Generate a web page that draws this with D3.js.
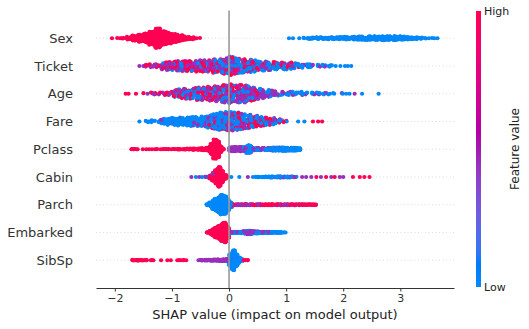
<!DOCTYPE html>
<html>
<head>
<meta charset="utf-8">
<script src="https://cdn.jsdelivr.net/npm/d3@7"></script>
<style>
  body { margin: 0; background: #fff; }
  svg { display: block; font-family: "DejaVu Sans", sans-serif; }
</style>
</head>
<body>
<svg id="chart" width="529" height="329"></svg>
<script>
// Features, top to bottom, in order of mean |SHAP|.
const features = ["Sex", "Ticket", "Age", "Fare", "Pclass", "Cabin", "Parch", "Embarked", "SibSp"];

// Histogram bin width (SHAP units) used for each feature's counts.
const binWidths = [0.1, 0.1, 0.1, 0.1, 0.05, 0.05, 0.05, 0.05, 0.05];

// Each entry: [SHAP value, count with low, mid, high feature value].
const sexBins = [
  [-2.05,0,0,1],[-1.95,0,0,2],[-1.85,0,0,3],[-1.75,0,0,12],[-1.65,0,0,22],[-1.55,0,0,31],
  [-1.45,0,0,40],[-1.35,0,0,58],[-1.25,0,0,84],[-1.15,0,0,60],[-1.05,0,0,46],[-0.95,0,0,36],
  [-0.85,0,0,24],[-0.75,0,0,14],[-0.65,0,0,9],[-0.55,0,0,3],
  [1.05,1,0,0],[1.12,1,0,0],[1.23,1,0,0],[1.35,4,0,0],[1.45,7,0,0],[1.55,8,0,0],[1.65,8,0,0],
  [1.75,9,0,0],[1.85,9,0,0],[1.95,10,0,0],[2.05,12,0,0],[2.15,12,0,0],[2.25,14,0,0],[2.35,15,0,0],
  [2.45,16,0,0],[2.55,16,0,0],[2.65,16,0,0],[2.75,17,0,0],[2.85,18,0,0],[2.95,16,0,0],[3.05,14,0,0],
  [3.15,11,0,0],[3.25,9,0,0],[3.35,6,0,0],[3.45,3,0,0],[3.55,2,0,0],[3.65,1,0,0]
];
const ticketBins = [
  [-1.57,0,1,0],[-1.50,0,1,0],[-1.45,0,2,2],[-1.35,0,3,3],[-1.25,1,3,2],[-1.15,2,6,5],
  [-1.05,2,7,6],[-0.95,3,7,7],[-0.85,3,8,8],[-0.75,3,8,8],[-0.65,3,8,8],[-0.55,3,9,9],
  [-0.45,3,9,9],[-0.35,4,9,8],[-0.25,7,9,9],[-0.15,8,9,8],[-0.05,9,10,10],[0.05,11,12,11],
  [0.15,10,9,10],[0.25,10,7,8],[0.35,13,5,5],[0.45,13,4,4],[0.55,11,3,3],[0.65,11,3,3],
  [0.75,9,3,3],[0.85,8,2,3],[0.95,8,2,3],[1.05,8,2,3],[1.15,7,2,1],[1.25,6,1,1],[1.35,5,1,0],
  [1.45,5,1,0],[1.55,3,1,0],[1.65,3,1,0],[1.75,3,0,0],[1.85,2,0,0],[1.95,1,0,0],[2.03,1,0,0],
  [2.08,1,0,0],[2.14,1,0,0]
];
const ageBins = [
  [-1.81,0,0,1],[-1.76,0,0,1],[-1.63,0,0,1],[-1.45,0,1,1],[-1.35,0,2,2],[-1.25,0,2,2],
  [-1.15,1,2,2],[-1.05,1,2,3],[-0.95,4,3,5],[-0.85,5,4,6],[-0.75,5,5,7],[-0.65,5,5,7],
  [-0.55,6,7,8],[-0.45,6,8,7],[-0.35,7,9,7],[-0.25,7,10,8],[-0.15,8,11,8],[-0.05,8,12,9],
  [0.05,9,13,9],[0.15,7,15,7],[0.25,7,15,7],[0.35,6,14,5],[0.45,5,12,4],[0.55,6,9,2],
  [0.65,5,7,1],[0.75,4,5,1],[0.85,3,5,0],[0.95,3,3,0],[1.05,3,3,0],[1.15,4,2,0],[1.25,4,2,0],
  [1.35,3,1,0],[1.45,3,1,0],[1.55,3,1,0],[1.65,2,1,0],[1.75,2,1,0],[1.85,2,0,0],[1.95,1,1,0],
  [2.05,1,0,0],[2.11,1,0,0],[2.2,0,1,0],[2.33,1,0,0],[2.62,1,0,0]
];
const fareBins = [
  [-1.57,1,0,0],[-1.45,3,0,0],[-1.35,4,0,0],[-1.25,4,0,0],[-1.15,9,1,0],[-1.05,12,1,0],
  [-0.95,12,1,0],[-0.85,14,1,0],[-0.75,14,1,0],[-0.65,15,2,0],[-0.55,15,2,0],[-0.45,17,2,0],
  [-0.35,19,3,1],[-0.25,20,6,3],[-0.15,21,6,5],[-0.05,21,7,6],[0.05,20,8,6],[0.15,17,9,6],
  [0.25,14,9,6],[0.35,11,8,6],[0.45,8,7,6],[0.55,6,6,5],[0.65,5,5,5],[0.75,4,4,5],
  [0.85,3,2,3],[0.95,1,2,1],[1.05,1,0,1],[1.21,1,0,0],[1.32,1,0,0],[1.47,0,0,1],[1.56,0,0,1],
  [1.63,0,0,1]
];
const pclassBins = [
  [-1.71,0,0,1],[-1.69,0,0,2],[-1.66,0,0,2],[-1.63,0,0,2],[-1.6,0,0,1],[-1.51,0,0,1],
  [-1.45,0,0,1],[-1.4,0,0,1],[-1.35,0,0,1],[-1.3,0,0,1],[-1.25,0,0,2],[-1.2,0,0,1],
  [-1.15,0,0,2],[-1.1,0,0,2],[-1.05,0,0,2],[-1.0,0,0,2],[-0.95,0,0,2],[-0.9,0,0,3],
  [-0.85,0,0,3],[-0.8,0,0,3],[-0.75,0,0,4],[-0.7,0,0,4],[-0.65,0,0,4],[-0.6,0,0,5],
  [-0.55,0,0,5],[-0.5,0,0,6],[-0.45,0,0,7],[-0.4,0,0,10],[-0.35,0,0,18],[-0.3,0,0,40],
  [-0.25,0,0,74],[-0.2,0,0,62],[-0.15,0,0,24],[-0.11,0,0,3],
  [0.025,0,14,0],[0.075,0,16,0],[0.125,0,16,0],[0.175,0,16,0],[0.225,1,15,0],[0.275,4,12,0],
  [0.325,24,6,0],[0.375,22,5,0],[0.425,6,4,0],[0.475,3,5,0],[0.525,3,5,0],[0.575,3,5,0],
  [0.625,4,4,0],[0.675,4,4,0],[0.725,5,3,0],[0.775,9,3,0],[0.825,10,2,0],[0.875,10,2,0],
  [0.925,11,2,0],[0.975,11,2,0],[1.025,10,1,0],[1.075,10,1,0],[1.125,10,1,0],[1.175,10,1,0],
  [1.225,8,0,0]
];
const cabinBins = [
  [-0.66,0,1,0],[-0.58,1,0,0],[-0.52,0,1,0],[-0.47,1,0,0],[-0.42,1,1,0],[-0.37,1,1,1],
  [-0.325,2,2,11],[-0.275,2,3,35],[-0.225,1,2,67],[-0.175,0,1,99],[-0.125,0,0,60],
  [-0.075,0,0,20],[-0.03,0,0,4],
  [0.04,1,0,0],[0.18,1,0,0],[0.33,0,1,0],[0.42,1,0,0],[0.475,2,0,0],[0.525,3,0,0],[0.575,3,0,0],
  [0.625,4,0,0],[0.675,4,0,0],[0.725,4,1,0],[0.775,4,1,0],[0.825,4,1,0],[0.875,4,2,0],
  [0.925,4,1,0],[0.975,4,1,0],[1.025,4,1,0],[1.075,3,2,0],[1.125,3,1,0],[1.175,2,0,0],
  [1.28,0,1,0],[1.35,0,1,0],[1.44,0,1,0],[1.53,0,0,1],[1.61,0,1,0],[1.7,0,0,1],[1.79,0,1,0],
  [1.85,0,0,1],[1.94,0,1,0],[2.0,0,1,0],[2.17,0,0,1],[2.29,0,0,1],[2.37,0,0,1],[2.46,0,0,1]
];
const parchBins = [
  [-0.375,5,0,0],[-0.325,20,0,0],[-0.275,40,0,0],[-0.225,55,0,0],[-0.175,70,0,0],
  [-0.125,90,0,0],[-0.075,85,0,0],[-0.025,50,0,0],[0.025,22,2,1],
  [0.075,0,3,2],[0.125,0,3,2],[0.175,0,3,2],[0.225,0,3,2],[0.275,0,4,2],[0.325,0,3,2],
  [0.375,0,3,2],[0.425,0,2,3],[0.475,0,2,3],[0.525,0,1,4],[0.575,0,1,4],[0.625,0,1,4],
  [0.675,0,1,4],[0.725,0,1,4],[0.775,0,1,4],[0.825,0,1,4],[0.875,0,1,4],[0.925,0,1,4],
  [0.975,0,1,4],[1.025,0,1,4],[1.075,0,1,4],[1.125,0,1,4],[1.175,0,1,4],[1.225,0,1,4],
  [1.275,0,1,3],[1.325,0,1,3],[1.375,0,1,3],[1.425,0,1,3],[1.475,0,1,3],[1.525,0,1,2]
];
const embarkedBins = [
  [-0.375,0,0,3],[-0.325,0,0,15],[-0.275,0,0,30],[-0.225,0,0,45],[-0.175,0,0,60],
  [-0.125,0,0,80],[-0.075,0,1,90],[-0.025,0,2,50],
  [0.025,4,2,1],[0.075,5,1,0],[0.125,5,1,0],[0.175,5,1,0],[0.225,5,2,0],[0.275,4,8,0],
  [0.325,5,12,0],[0.375,5,12,0],[0.425,5,5,0],[0.475,5,5,0],[0.525,5,4,0],[0.575,5,2,0],
  [0.625,6,1,0],[0.675,6,1,0],[0.725,6,0,0],[0.775,6,0,0],[0.825,5,0,0],[0.875,5,0,0],
  [0.925,4,0,0],[0.965,2,0,0]
];
const sibspBins = [
  [-1.675,0,0,4],[-1.625,0,0,3],[-1.575,0,0,3],[-1.525,0,0,3],[-1.475,0,0,2],[-1.425,0,0,2],
  [-1.375,0,0,2],[-1.325,0,0,1],[-1.19,0,0,1],[-1.08,0,0,1],[-1.02,0,0,1],[-0.89,0,0,2],
  [-0.84,0,0,1],[-0.79,0,0,2],[-0.75,0,0,1],
  [-0.525,0,2,0],[-0.475,0,3,0],[-0.425,0,4,0],[-0.375,0,4,0],[-0.325,0,5,0],[-0.275,0,6,0],
  [-0.225,0,6,0],[-0.175,0,8,0],[-0.125,0,9,0],[-0.075,0,10,0],[-0.025,4,8,0],
  [0.025,55,3,0],[0.075,100,3,0],[0.125,60,2,0],[0.175,28,0,0],[0.225,10,0,0],
  [0.28,0,0,2],[0.32,0,0,2]
];
const featureBins = [sexBins, ticketBins, ageBins, fareBins, pclassBins, cabinBins, parchBins, embarkedBins, sibspBins];

// Normalised feature value represented by the low / mid / high counts.
const classValues = [0, 0.45, 1];

const xTicks = [-2, -1, 0, 1, 2, 3];
const xDomain = [-2.33, 3.94];
const colorTickLabels = ["Low", "High"];
const xTitle = "SHAP value (impact on model output)";
const colorTitle = "Feature value";

// ---- layout ----
const svg = d3.select("#chart");
const plot = { left: 96, right: 454, top: 10.5, bottom: 288 };
const nRows = features.length;

const x = d3.scaleLinear().domain(xDomain).range([plot.left, plot.right]);
// row positions in data units: bottom feature at 0, top at nRows-1
const y = d3.scaleLinear().domain([-1, nRows]).range([plot.bottom, plot.top]);
const rowPos = i => nRows - 1 - i;

// Blue-to-red colour ramp in CIE LCh
const colorAt = t => {
  const L = t < 0.5 ? 54 - 28 * t : 40 + 28 * (t - 0.5);
  const C = 70 + 20 * t;
  const H = 266.93 + 113.4 * t;
  return d3.hcl(H, C, L).formatHex();
};

// integer hash -> [0, 1), used to scatter dots inside their bin
const hash01 = (a, b) => {
  let h = Math.imul(a + 1, 2654435761) ^ Math.imul(b + 7, 40503);
  h = Math.imul(h ^ (h >>> 15), 2246822519);
  h ^= h >>> 13;
  return (h >>> 0) / 4294967296;
};

// row guide lines
svg.append("g").selectAll("line").data(features).join("line")
  .attr("x1", plot.left).attr("x2", plot.right)
  .attr("y1", (d, i) => y(rowPos(i))).attr("y2", (d, i) => y(rowPos(i)))
  .attr("stroke", "#cccccc").attr("stroke-width", 0.7).attr("stroke-dasharray", "1,2.5");

// Build beeswarm dots per feature: counts are stacked alternately above/below the row
function swarm(bins, width) {
  const dots = [];
  bins.forEach(([v, lo, mid, hi], bi) => {
    const members = [];
    [lo, mid, hi].forEach((n, c) => {
      for (let k = 0; k < n; k++) members.push({ c, key: (k + 0.5) / n });
    });
    members.sort((a, b) => a.key - b.key || a.c - b.c);
    const n = members.length;
    members.forEach((m, layer) => {
      const side = Math.ceil(layer / 2) * ((layer % 2) * 2 - 1);
      const spread = n === 1 ? 0 : hash01(bi, layer) - 0.5;
      dots.push({ shap: v + spread * width, side, c: m.c });
    });
  });
  const maxSide = d3.max(dots, d => d.side);
  const scale = 0.9 * 0.4 / (maxSide + 1);
  dots.forEach((d, i) => {
    d.off = d.side * scale;
    d.order = hash01(i, 3);
  });
  dots.sort((a, b) => a.order - b.order);
  return dots;
}

const dotLayer = svg.append("g");
featureBins.forEach((bins, i) => {
  const dots = swarm(bins, binWidths[i]);
  dotLayer.append("g").selectAll("circle").data(dots).join("circle")
    .attr("cx", d => x(d.shap))
    .attr("cy", d => y(rowPos(i) + d.off))
    .attr("r", 2.1)
    .attr("fill", d => colorAt(classValues[d.c]));
});

// zero reference line
svg.append("line")
  .attr("x1", x(0)).attr("x2", x(0))
  .attr("y1", plot.top).attr("y2", plot.bottom)
  .attr("stroke", "#999999").attr("stroke-width", 1.6);

// feature names
svg.append("g").selectAll("text").data(features).join("text")
  .attr("x", 73).attr("y", (d, i) => y(rowPos(i)))
  .attr("dy", "0.36em")
  .attr("text-anchor", "end")
  .attr("font-size", 13).attr("fill", "#333333")
  .text(d => d);

// x axis
const xAxis = svg.append("g")
  .attr("transform", `translate(0,${plot.bottom})`)
  .call(d3.axisBottom(x).tickValues(xTicks).tickFormat(d3.format("d"))
    .tickSizeInner(3.5).tickSizeOuter(0).tickPadding(3));
xAxis.select(".domain").attr("stroke", "#333333");
xAxis.selectAll(".tick line").attr("stroke", "#333333");
xAxis.selectAll(".tick text").attr("font-size", 11).attr("fill", "#333333")
  .attr("font-family", "DejaVu Sans, sans-serif");

svg.append("text")
  .attr("x", (plot.left + plot.right) / 2).attr("y", 318.5)
  .attr("text-anchor", "middle").attr("font-size", 13).attr("fill", "#222")
  .text(xTitle);

// colour bar
const cb = { x: 476, w: 5, top: 11, bottom: 287 };
const grad = svg.append("defs").append("linearGradient")
  .attr("id", "featgrad").attr("x1", 0).attr("x2", 0).attr("y1", 1).attr("y2", 0);
d3.range(0, 1.0001, 0.02).forEach(t => {
  grad.append("stop").attr("offset", t).attr("stop-color", colorAt(t));
});
svg.append("rect")
  .attr("x", cb.x).attr("y", cb.top).attr("width", cb.w).attr("height", cb.bottom - cb.top)
  .attr("fill", "url(#featgrad)");
svg.append("g").selectAll("text").data(colorTickLabels).join("text")
  .attr("x", cb.x + cb.w + 3)
  .attr("y", (d, i) => i === 0 ? cb.bottom : cb.top)
  .attr("dy", "0.36em")
  .attr("font-size", 11).attr("fill", "#222")
  .text(d => d);
svg.append("text")
  .attr("transform", `translate(515,${(cb.top + cb.bottom) / 2}) rotate(-90)`)
  .attr("text-anchor", "middle").attr("dy", "0.36em")
  .attr("font-size", 12).attr("fill", "#222")
  .text(colorTitle);
</script>
</body>
</html>
